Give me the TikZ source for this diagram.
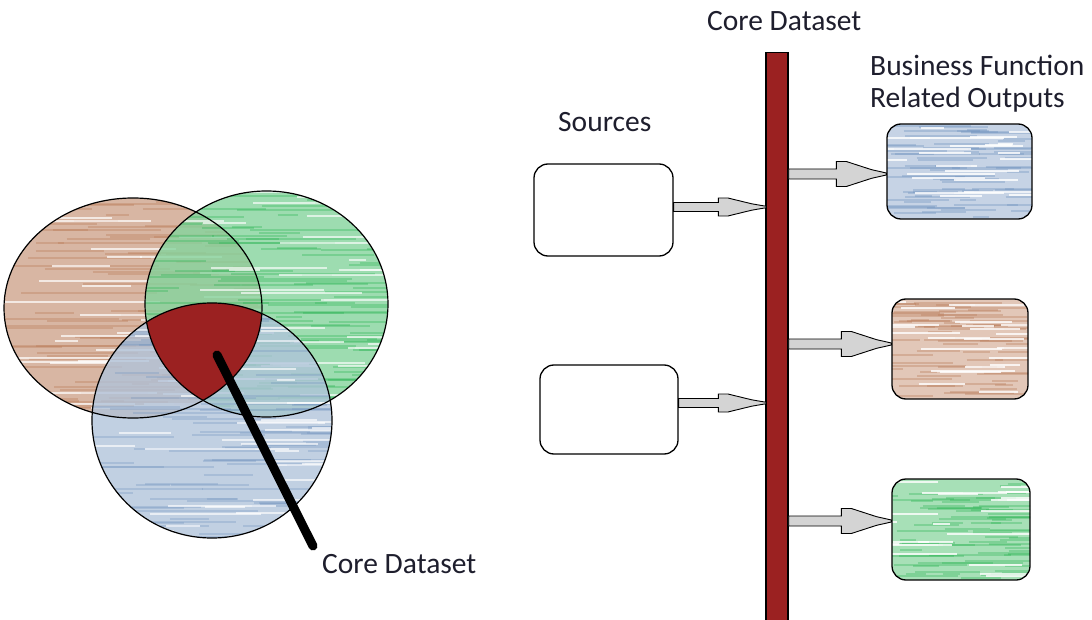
\documentclass[tikz,border=0pt]{standalone}
\usepackage{fontspec}
\setmainfont{Carlito}
\usetikzlibrary{calc}
\definecolor{pbrown}{RGB}{185,122,87}
\definecolor{pgreen}{RGB}{34,177,76}
\definecolor{pblue}{RGB}{112,146,190}
\definecolor{coreRed}{RGB}{155,33,33}
\definecolor{arrGray}{RGB}{212,212,212}
\definecolor{txt}{RGB}{30,30,45}
% random horizontal crayon strokes: x0 y0 x1 y1 style count width
\newcommand\scribble[7]{%
  \foreach \k in {1,...,#6}{%
    \pgfmathsetmacro\yy{#2+rnd*(#4-#2)}%
    \pgfmathsetmacro\xa{#1-20+rnd*(#3-#1)}%
    \pgfmathsetmacro\ll{15+rnd*0.55*(#3-#1)}%
    \draw[#5, line width=#7] (\xa,\yy) -- ++(\ll,0);
  }}
% horizontal block arrow: start, end, shaft half, head half, head length
\newcommand\blockarrow[5]{%
  \filldraw[arrowst] let \p1=#1, \p2=#2 in
    (\x1,\y1+#3) -- (\x2-#5,\y1+#3) -- (\x2-#5,\y1+#4) -- (\x2-0.8*#5,\y1+#4)
    -- (\x2-0.3*#5,\y1+0.35*#4) -- (\x2,\y1+0.08*#4) -- (\x2,\y1-0.08*#4)
    -- (\x2-0.3*#5,\y1-0.35*#4) -- (\x2-0.8*#5,\y1-#4) -- (\x2-#5,\y1-#4)
    -- (\x2-#5,\y1-#3) -- (\x1,\y1-#3) -- cycle;}
\begin{document}
\begin{tikzpicture}[x=1pt,y=-1pt,
  lbl/.style={inner sep=0pt, font=\fontsize{29.5}{34}\selectfont, text=txt},
  arrowst/.style={fill=arrGray, draw=black, line width=0.9pt, line join=miter},
  boxst/.style={draw=black, line width=1.3pt, rounded corners=14pt, inner sep=0pt},
  outline/.style={draw=black, line width=1.2pt}]
\pgfmathsetseed{17}
\fill[white] (0,0) rectangle (1092,620);
\useasboundingbox (0,0) rectangle (1092,620);

% ---------------- Venn diagram ----------------
\def\brownE{(133,308) ellipse [x radius=129, y radius=110]}
\def\greenE{(266.5,304) ellipse [x radius=121.5, y radius=113]}
\def\blueE{(212,420.5) ellipse [x radius=120, y radius=117.5]}

\begin{scope}
  \clip \brownE;
  \fill[pbrown!55] \brownE;
  \scribble{4}{198}{262}{418}{pbrown, opacity=0.35}{110}{2pt}
  \scribble{4}{198}{262}{418}{white, opacity=0.7}{35}{2pt}
\end{scope}
\begin{scope}
  \clip \greenE;
  \fill[pgreen!55, fill opacity=0.8] \greenE;
  \scribble{145}{191}{388}{417}{pgreen, opacity=0.3}{110}{2pt}
  \scribble{145}{191}{388}{417}{white, opacity=0.65}{35}{2pt}
\end{scope}
\begin{scope}
  \clip \blueE;
  \fill[pblue!55, fill opacity=0.78] \blueE;
  \scribble{92}{303}{332}{538}{pblue, opacity=0.3}{110}{2pt}
  \scribble{92}{303}{332}{538}{white, opacity=0.65}{35}{2pt}
\end{scope}
\begin{scope}
  \clip \brownE;
  \clip \greenE;
  \fill[coreRed] \blueE;
\end{scope}
\draw[outline] \brownE;
\draw[outline] \greenE;
\draw[outline] \blueE;

\coordinate (lnS) at (217,355);
\coordinate (lnE) at (313,546);
\draw[line width=9pt, line cap=round] (lnS) -- (lnE);
\node[lbl, anchor=base west] (cdB) at (322,573) {Core Dataset};

% ---------------- right side ----------------
\node[lbl, anchor=base west] (cdT) at (707,31) {Core Dataset};
\node[lbl, anchor=base west] (srcL) at (558,132) {Sources};
\node[lbl, anchor=base west] (bf1) at (870,76) {Business Function};
\node[lbl, anchor=base west] (bf2) at (870,108) {Related Outputs};

\node[draw=black, line width=1.4pt, fill=coreRed, inner sep=0pt,
      minimum width=22pt, minimum height=580pt, anchor=north] (bar) at (777,52) {};

\node[boxst, fill=white, minimum width=139pt, minimum height=92pt] (s1) at (603.5,210) {};
\node[boxst, fill=white, minimum width=138pt, minimum height=89pt] (s2) at (609,409.5) {};

% output boxes with crayon texture
\begin{scope}
  \clip[rounded corners=14pt] (887,124) rectangle (1032,219);
  \fill[pblue!40] (887,124) rectangle (1032,219);
  \scribble{887}{126}{1032}{217}{pblue, opacity=0.35}{70}{2pt}
  \scribble{887}{126}{1032}{217}{white, opacity=0.8}{22}{2pt}
\end{scope}
\node[boxst, minimum width=145pt, minimum height=95pt] (o1) at (959.5,171.5) {};

\begin{scope}
  \clip[rounded corners=14pt] (892,299) rectangle (1028,399);
  \fill[pbrown!42] (892,299) rectangle (1028,399);
  \scribble{892}{301}{1028}{397}{pbrown, opacity=0.35}{70}{2pt}
  \scribble{892}{301}{1028}{397}{white, opacity=0.8}{22}{2pt}
\end{scope}
\node[boxst, minimum width=136pt, minimum height=100pt] (o2) at (960,349) {};

\begin{scope}
  \clip[rounded corners=14pt] (892,479) rectangle (1030,580);
  \fill[pgreen!40] (892,479) rectangle (1030,580);
  \scribble{892}{481}{1030}{578}{pgreen, opacity=0.3}{70}{2pt}
  \scribble{892}{481}{1030}{578}{white, opacity=0.8}{22}{2pt}
\end{scope}
\node[boxst, minimum width=138pt, minimum height=101pt] (o3) at (961,529.5) {};

% arrows
\coordinate (a1s) at ($(s1.east)+(0,-3)$);
\coordinate (a1e) at ($(bar.west |- a1s)+(1,0)$);
\coordinate (a2s) at ($(s2.east)+(0,-6.5)$);
\coordinate (a2e) at ($(bar.west |- a2s)+(1,0)$);
\coordinate (a3s) at ($(bar.east |- o1.west)+(0,2.5)$);
\coordinate (a3e) at ($(o1.west)+(0,2.5)$);
\coordinate (a4s) at ($(bar.east |- o2.west)+(0,-5)$);
\coordinate (a4e) at ($(o2.west)+(0,-5)$);
\coordinate (a5s) at ($(bar.east |- o3.west)+(0,-8.5)$);
\coordinate (a5e) at ($(o3.west)+(0,-8.5)$);

\blockarrow{(a1s)}{(a1e)}{4.5pt}{9pt}{48pt}
\blockarrow{(a2s)}{(a2e)}{4.5pt}{9pt}{48pt}
\blockarrow{(a3s)}{(a3e)}{5pt}{12.5pt}{50pt}
\blockarrow{(a4s)}{(a4e)}{5pt}{12.5pt}{50pt}
\blockarrow{(a5s)}{(a5e)}{5pt}{12.5pt}{50pt}
\end{tikzpicture}
\end{document}
